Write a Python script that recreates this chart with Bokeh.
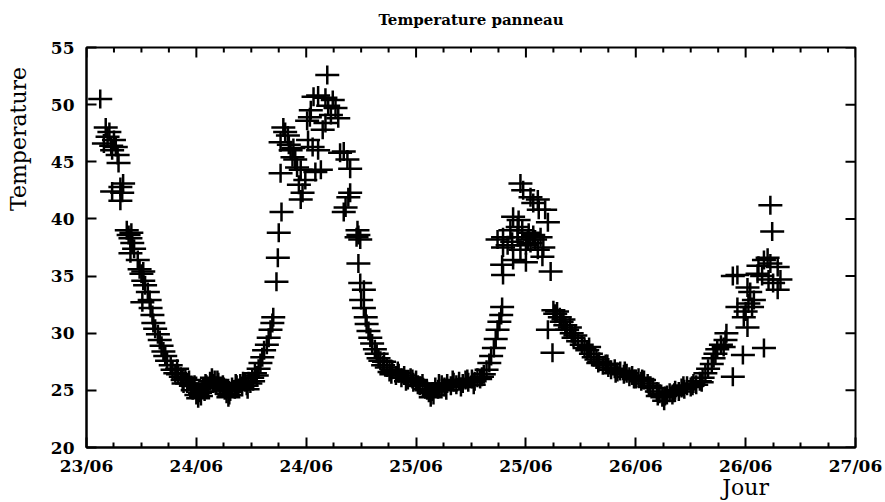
import math

from bokeh.plotting import figure
from bokeh.models import ColumnDataSource, FixedTicker, LinearAxis, Range1d
from bokeh.embed import file_html
from bokeh.resources import INLINE

TITLE = "Temperature panneau"
X_LABEL = "Jour"
Y_LABEL = "Temperature"

# x positions are hours counted from 23/06 00:00
tick_hours = [12, 24, 36, 48, 60, 72, 84, 96]
tick_labels = ["23/06", "24/06", "24/06", "25/06", "25/06", "26/06", "26/06", "27/06"]
minor_hours = [h for h in range(12, 97, 3) if h not in tick_hours]
y_ticks = [20, 25, 30, 35, 40, 45, 50, 55]

# where the axis titles sit along their axes (hour / temperature)
x_label_at = 84
y_label_at = 47

# (hour, temperature) readings, 23/06 afternoon to 24/06 morning
day_23 = [
    (13.5, 50.5), (14.1, 48.0), (13.9, 46.6), (14.3, 47.2), (14.5, 47.6), (14.7, 46.4),
    (15.0, 46.9), (14.8, 46.0), (15.2, 46.3), (15.4, 45.6), (15.5, 44.9), (15.7, 42.8),
    (14.8, 42.4), (15.9, 42.3), (15.7, 41.6), (16.0, 43.1), (16.4, 39.0), (16.6, 38.6),
    (16.8, 38.3), (16.9, 38.8), (17.0, 37.9), (17.2, 37.4), (16.8, 37.0), (17.6, 36.4),
    (17.8, 35.6), (18.0, 35.2), (18.2, 34.6), (18.4, 34.2), (18.2, 35.4), (18.1, 32.7),
    (18.7, 33.6), (18.9, 32.9), (19.0, 32.2), (19.2, 31.6), (19.3, 30.9), (19.5, 30.4),
    (19.8, 29.9), (20.0, 29.4), (20.2, 28.9), (20.4, 28.4), (20.6, 28.0), (20.8, 27.6),
    (21.2, 27.2), (21.4, 26.8), (21.7, 26.5), (21.9, 26.9), (22.0, 26.4), (22.3, 26.2),
    (22.5, 25.9), (22.6, 25.6), (22.8, 26.1), (23.0, 25.6), (23.2, 25.9), (23.4, 25.4),
    (23.6, 25.0), (23.8, 25.5), (24.0, 24.6), (24.2, 24.3), (24.4, 24.8), (24.5, 24.5),
    (24.7, 25.2), (24.9, 24.9), (25.0, 25.6), (25.1, 25.5), (25.3, 25.3), (25.5, 25.8),
    (25.7, 26.1), (25.8, 25.6), (26.0, 25.9), (26.2, 25.4), (26.3, 25.9), (26.4, 25.7),
    (26.6, 25.2), (26.9, 25.5), (27.0, 25.3), (27.1, 25.0), (27.3, 24.7), (27.5, 24.4),
    (27.6, 24.6), (27.7, 24.9), (27.9, 25.3), (28.2, 25.1), (28.3, 25.6), (28.4, 25.5),
    (28.6, 25.2), (28.8, 25.6), (29.0, 25.3), (29.1, 25.8), (29.3, 25.7), (29.5, 25.4),
    (29.6, 25.1), (29.7, 25.8), (29.9, 25.6), (30.1, 26.1), (30.2, 25.8), (30.4, 26.5),
    (30.6, 26.3), (30.8, 26.9), (31.0, 27.4), (31.2, 27.9), (31.4, 28.5), (31.7, 29.0),
    (31.9, 29.6), (32.1, 30.3), (32.3, 30.9), (32.4, 31.4), (32.75, 34.5), (32.9, 36.6),
    (33.0, 38.8), (33.3, 40.6),
]

# 24/06 midday peak and the following night
day_24 = [
    (33.2, 44.0), (33.5, 48.0), (33.7, 47.6), (34.0, 47.3), (33.2, 46.7), (34.1, 46.5),
    (34.3, 46.0), (34.6, 46.2), (34.5, 45.4), (34.8, 45.2), (35.0, 44.5), (35.4, 44.3),
    (35.2, 43.0), (35.6, 42.3), (35.4, 41.7), (35.9, 43.4), (36.1, 48.6), (36.2, 46.9),
    (36.5, 49.5), (36.4, 48.9), (36.7, 46.3), (36.8, 50.7), (37.0, 44.1), (37.3, 50.8),
    (37.3, 46.0), (37.6, 44.3), (37.8, 47.8), (38.1, 50.6), (38.1, 48.4), (38.3, 52.6),
    (38.4, 49.9), (38.7, 49.1), (38.9, 50.4), (39.2, 49.7), (39.5, 48.8), (39.7, 45.8),
    (40.1, 45.9), (40.5, 45.2), (40.8, 44.4), (40.1, 40.6), (40.3, 41.0), (40.6, 41.9),
    (40.8, 42.3), (41.6, 39.0), (41.7, 38.6), (41.5, 38.4), (41.9, 38.2), (41.7, 36.1),
    (41.9, 34.4), (42.3, 33.8), (42.0, 32.9), (42.3, 32.2), (42.5, 31.4), (42.6, 30.8),
    (42.8, 30.2), (43.0, 29.6), (43.2, 29.1), (43.5, 28.6), (43.7, 28.2), (43.9, 27.8),
    (44.1, 27.6), (44.4, 27.2), (44.5, 27.5), (44.8, 27.0), (45.1, 26.6), (45.3, 26.4),
    (45.4, 26.8), (45.8, 26.3), (46.0, 26.7), (46.1, 26.5), (46.4, 26.1), (46.7, 26.3),
    (46.9, 25.8), (47.1, 25.9), (47.4, 26.1), (47.6, 26.0), (47.7, 25.7), (48.0, 25.9),
    (48.2, 25.5), (48.4, 25.4), (48.7, 25.6), (49.0, 25.1), (49.2, 25.0), (49.4, 24.8),
    (49.6, 24.4), (49.8, 24.9), (49.9, 24.6), (50.1, 25.3), (50.4, 25.1), (50.5, 25.6),
    (50.8, 25.5), (51.1, 25.3), (51.3, 25.0), (51.4, 25.6), (51.8, 25.4), (52.0, 25.9),
    (52.1, 25.7), (52.4, 25.5), (52.7, 25.8), (52.9, 25.3), (53.1, 25.6), (53.4, 25.9),
    (53.6, 26.0), (53.7, 25.7), (54.1, 26.0), (54.3, 25.5), (54.4, 25.8), (54.7, 26.1),
    (55.0, 26.0), (55.2, 26.2), (55.4, 26.4), (55.7, 26.8), (56.0, 27.4), (56.2, 28.0),
    (56.5, 28.7), (56.7, 29.5), (56.9, 30.3), (57.1, 31.0), (57.3, 31.6), (57.4, 32.3),
]

# 25/06 midday peak and the following night
day_25 = [
    (57.5, 35.1), (57.4, 36.0), (58.6, 36.4), (60.0, 36.2), (57.5, 38.4), (56.9, 38.2),
    (59.1, 38.4), (60.2, 38.2), (60.8, 38.6), (61.6, 38.4), (61.9, 37.5), (62.7, 35.4),
    (58.6, 40.2), (59.2, 39.9), (59.1, 39.3), (59.6, 39.0), (58.3, 39.0), (59.4, 43.1),
    (60.5, 41.9), (60.8, 41.4), (61.3, 41.7), (62.1, 40.8), (62.4, 39.7), (61.4, 40.8),
    (61.0, 38.2), (60.5, 37.9), (61.3, 37.3), (61.8, 36.7), (57.5, 37.5), (58.0, 37.7),
    (58.5, 38.0), (59.4, 37.3), (60.0, 37.7), (60.3, 38.8), (59.7, 42.5), (62.4, 30.3),
    (62.9, 28.3), (63.0, 32.0), (63.2, 31.7), (63.4, 31.9), (63.7, 31.4), (63.9, 31.0),
    (64.1, 31.2), (64.3, 30.7), (64.5, 30.3), (64.8, 30.5), (65.0, 30.0), (65.2, 29.6),
    (65.4, 29.8), (65.7, 29.3), (66.1, 29.0), (66.4, 28.7), (66.7, 28.5), (66.9, 28.8),
    (67.1, 28.2), (67.4, 27.9), (67.7, 27.7), (67.9, 27.4), (68.0, 27.5), (68.4, 27.2),
    (68.7, 27.3), (68.9, 27.3), (69.0, 27.0), (69.3, 26.8), (69.7, 26.9), (69.8, 26.5),
    (70.0, 26.6), (70.3, 26.7), (70.7, 26.4), (70.8, 26.7), (71.0, 26.5), (71.3, 26.2),
    (71.6, 26.3), (71.8, 26.0), (72.0, 26.0), (72.3, 26.1), (72.6, 25.8), (72.7, 26.0),
    (72.9, 25.9), (73.3, 25.6), (73.5, 25.3), (73.6, 25.4), (73.9, 25.2), (74.3, 24.9),
    (74.4, 24.5), (74.6, 24.7), (74.9, 24.4), (75.1, 24.1), (75.2, 24.5), (75.4, 24.6),
    (75.7, 24.8), (76.0, 24.6), (76.2, 24.8), (76.3, 25.0), (76.7, 24.9), (77.0, 25.2),
    (77.2, 25.4), (77.3, 25.1), (77.6, 25.4), (78.0, 25.3), (78.2, 25.4), (78.3, 25.6),
    (78.6, 25.5), (79.0, 25.8), (79.2, 25.7), (79.3, 26.1), (79.6, 26.5), (79.9, 26.9),
]

# 26/06 morning rise
day_26 = [
    (80.3, 27.3), (80.5, 27.8), (80.7, 28.2), (80.9, 28.6), (81.3, 29.0), (81.6, 28.8),
    (81.8, 29.4), (81.9, 30.0), (82.6, 26.2), (83.7, 28.1), (86.0, 28.7), (83.8, 31.4),
    (84.2, 30.5), (84.3, 32.6), (84.7, 32.3), (83.1, 32.3), (84.2, 34.0), (83.1, 35.1),
    (82.6, 35.0), (84.5, 33.6), (85.3, 35.2), (85.4, 35.9), (86.0, 36.4), (86.4, 36.6),
    (86.7, 36.1), (87.5, 35.8), (87.8, 34.7), (87.0, 34.4), (87.5, 33.8), (86.5, 34.7),
    (85.8, 35.0), (84.9, 32.9), (84.0, 31.9), (86.7, 41.2), (86.9, 38.9),
]

readings = day_23 + day_24 + day_25 + day_26
source = ColumnDataSource(data=dict(
    hour=[h for h, _ in readings],
    temp=[t for _, t in readings],
))

x_lo, x_hi = tick_hours[0], tick_hours[-1]
y_lo, y_hi = y_ticks[0], y_ticks[-1]

p = figure(
    width=885, height=502,
    output_backend="svg", toolbar_location=None,
    x_range=Range1d(x_lo, x_hi), y_range=Range1d(y_lo, y_hi),
    min_border_left=86, min_border_right=30,
    min_border_top=47, min_border_bottom=54,
)
p.background_fill_color = "white"
p.border_fill_color = "white"
p.grid.visible = False
p.outline_line_color = "black"
p.outline_line_width = 2

SERIF = "DejaVu Serif"


def style_axis(ax):
    ax.axis_line_color = "black"
    ax.axis_line_width = 2
    ax.major_tick_line_color = "black"
    ax.major_tick_line_width = 2
    ax.minor_tick_line_color = "black"
    ax.minor_tick_line_width = 2
    ax.major_tick_in = 10
    ax.major_tick_out = 0
    ax.minor_tick_in = 5
    ax.minor_tick_out = 0
    ax.major_label_text_font = SERIF
    ax.major_label_text_font_style = "bold"
    ax.major_label_text_color = "black"
    ax.major_label_text_font_size = "17px"


def bare_axis(ax):
    # an axis used only to carry one piece of text
    ax.axis_line_color = None
    ax.major_tick_line_color = None
    ax.minor_tick_line_color = None
    ax.major_tick_in = 0
    ax.major_tick_out = 0
    ax.minor_tick_in = 0
    ax.minor_tick_out = 0
    ax.major_label_text_font = SERIF
    ax.major_label_text_font_style = "normal"
    ax.major_label_text_color = "black"


bottom = p.xaxis[0]
bottom.ticker = FixedTicker(ticks=tick_hours, minor_ticks=minor_hours)
bottom.major_label_overrides = {h: lab for h, lab in zip(tick_hours, tick_labels)}
bottom.major_label_standoff = 8
style_axis(bottom)

left = p.yaxis[0]
left.ticker = FixedTicker(ticks=y_ticks, minor_ticks=[])
left.major_label_standoff = 12
style_axis(left)

# chart title, centred over the box
title_axis = LinearAxis(ticker=FixedTicker(ticks=[], minor_ticks=[]))
bare_axis(title_axis)
title_axis.major_label_standoff = 0
title_axis.axis_label = TITLE
title_axis.axis_label_standoff = 19
title_axis.axis_label_text_font = SERIF
title_axis.axis_label_text_font_style = "bold"
title_axis.axis_label_text_font_size = "15px"
title_axis.axis_label_text_color = "black"
p.add_layout(title_axis, "above")

# "Jour" under the last date labels
x_name_axis = LinearAxis(ticker=FixedTicker(ticks=[x_label_at], minor_ticks=[]))
bare_axis(x_name_axis)
x_name_axis.major_label_overrides = {x_label_at: X_LABEL}
x_name_axis.major_label_standoff = -4
x_name_axis.major_label_text_font_size = "22px"
p.add_layout(x_name_axis, "below")

# "Temperature" up the left side, towards the top
y_name_axis = LinearAxis(ticker=FixedTicker(ticks=[y_label_at], minor_ticks=[]))
bare_axis(y_name_axis)
y_name_axis.major_label_overrides = {y_label_at: Y_LABEL}
y_name_axis.major_label_orientation = "vertical"
y_name_axis.major_label_standoff = 16
y_name_axis.major_label_text_font_size = "22px"
p.add_layout(y_name_axis, "left")

# inward ticks mirrored on the top and right edges of the box
p.ray(x=tick_hours, y=[y_hi] * len(tick_hours), length=10, length_units="screen",
      angle=-math.pi / 2, line_color="black", line_width=2)
p.ray(x=minor_hours, y=[y_hi] * len(minor_hours), length=5, length_units="screen",
      angle=-math.pi / 2, line_color="black", line_width=2)
p.ray(x=[x_hi] * len(y_ticks), y=y_ticks, length=10, length_units="screen",
      angle=math.pi, line_color="black", line_width=2)

# gnuplot-style "+" points: a wide horizontal bar and a shorter vertical bar
p.scatter("hour", "temp", source=source, marker="dash", size=24,
          line_color="black", line_width=2.5)
p.scatter("hour", "temp", source=source, marker="dash", size=19, angle=math.pi / 2,
          line_color="black", line_width=2.5)

open("out.html", "w").write(file_html(p, INLINE))
